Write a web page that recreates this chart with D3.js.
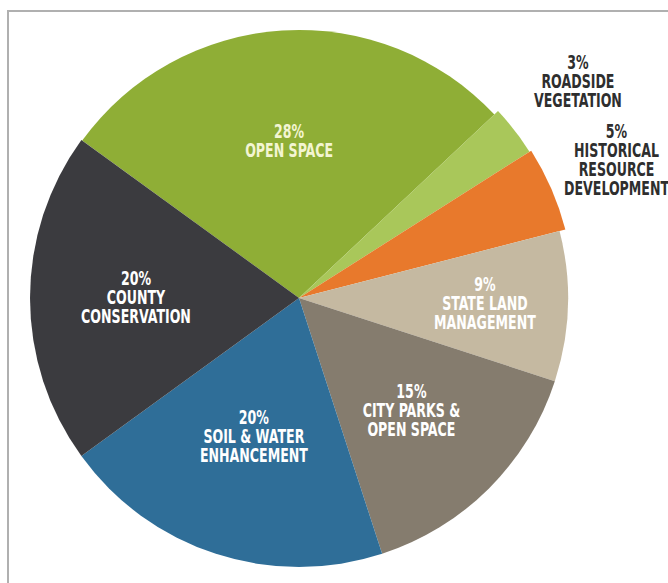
<!DOCTYPE html>
<html>
<head>
<meta charset="utf-8">
<script src="https://cdn.jsdelivr.net/npm/d3@7"></script>
<style>
  html, body { margin: 0; padding: 0; background: #fff; overflow: hidden; }
  svg { display: block; }
  text { font-family: "DejaVu Sans Condensed", "Liberation Sans Narrow", "Liberation Sans", sans-serif; font-weight: bold; }
</style>
</head>
<body>
<svg id="chart" width="668" height="583"></svg>
<script>
// ---- data ----
const categories = ["OPEN SPACE", "ROADSIDE VEGETATION", "HISTORICAL RESOURCE DEVELOPMENT",
  "STATE LAND MANAGEMENT", "CITY PARKS & OPEN SPACE", "SOIL & WATER ENHANCEMENT", "COUNTY CONSERVATION"];
const values = [28, 3, 5, 9, 15, 20, 20];
const labelLines = [
  ["OPEN SPACE"],
  ["ROADSIDE", "VEGETATION"],
  ["HISTORICAL", "RESOURCE", "DEVELOPMENT"],
  ["STATE LAND", "MANAGEMENT"],
  ["CITY PARKS &", "OPEN SPACE"],
  ["SOIL & WATER", "ENHANCEMENT"],
  ["COUNTY", "CONSERVATION"]
];

// ---- styles / layout ----
const colors = ["#8fae36", "#a9c75a", "#e8792c", "#c5b9a1", "#857c6e", "#2f6e98", "#3b3b3f"];
const labelColors = ["#f3f5d2", "#2e2e2e", "#2e2e2e", "#ffffff", "#ffffff", "#ffffff", "#ffffff"];
const outerR = [268, 273, 275, 269, 269, 269, 269];
const labelR = [157, 353, 346, 186, 159, 146, 163];
const cx = 299, cy = 298;

const svg = d3.select("#chart");

// frame
svg.append("path")
  .attr("d", "M8,583 L8,11 L668,11")
  .attr("fill", "none")
  .attr("stroke", "#b0b0b0")
  .attr("stroke-width", 2);

const pie = d3.pie().sort(null).value(d => d)
  .startAngle(-54 * Math.PI / 180)
  .endAngle(-54 * Math.PI / 180 + 2 * Math.PI);
const arcs = pie(values);

const g = svg.append("g").attr("transform", `translate(${cx},${cy})`);

g.selectAll("path.slice")
  .data(arcs)
  .join("path")
  .attr("class", "slice")
  .attr("fill", (d, i) => colors[i])
  .attr("d", (d, i) => d3.arc().innerRadius(0).outerRadius(outerR[i])(d));

const lineH = 19;
arcs.forEach((d, i) => {
  const [x, y] = d3.arc().innerRadius(labelR[i]).outerRadius(labelR[i]).centroid(d);
  const lines = [values[i] + "%"].concat(labelLines[i]);
  const t = g.append("text")
    .attr("text-anchor", "middle")
    .attr("fill", labelColors[i])
    .attr("font-size", 20)
    .attr("transform", `translate(${x},${y - 1 - (lines.length - 1) * lineH / 2}) scale(0.7,1)`);
  lines.forEach((s, k) => {
    t.append("tspan").attr("x", 0).attr("y", k * lineH).attr("dy", "0.36em").text(s);
  });
});
</script>
</body>
</html>
